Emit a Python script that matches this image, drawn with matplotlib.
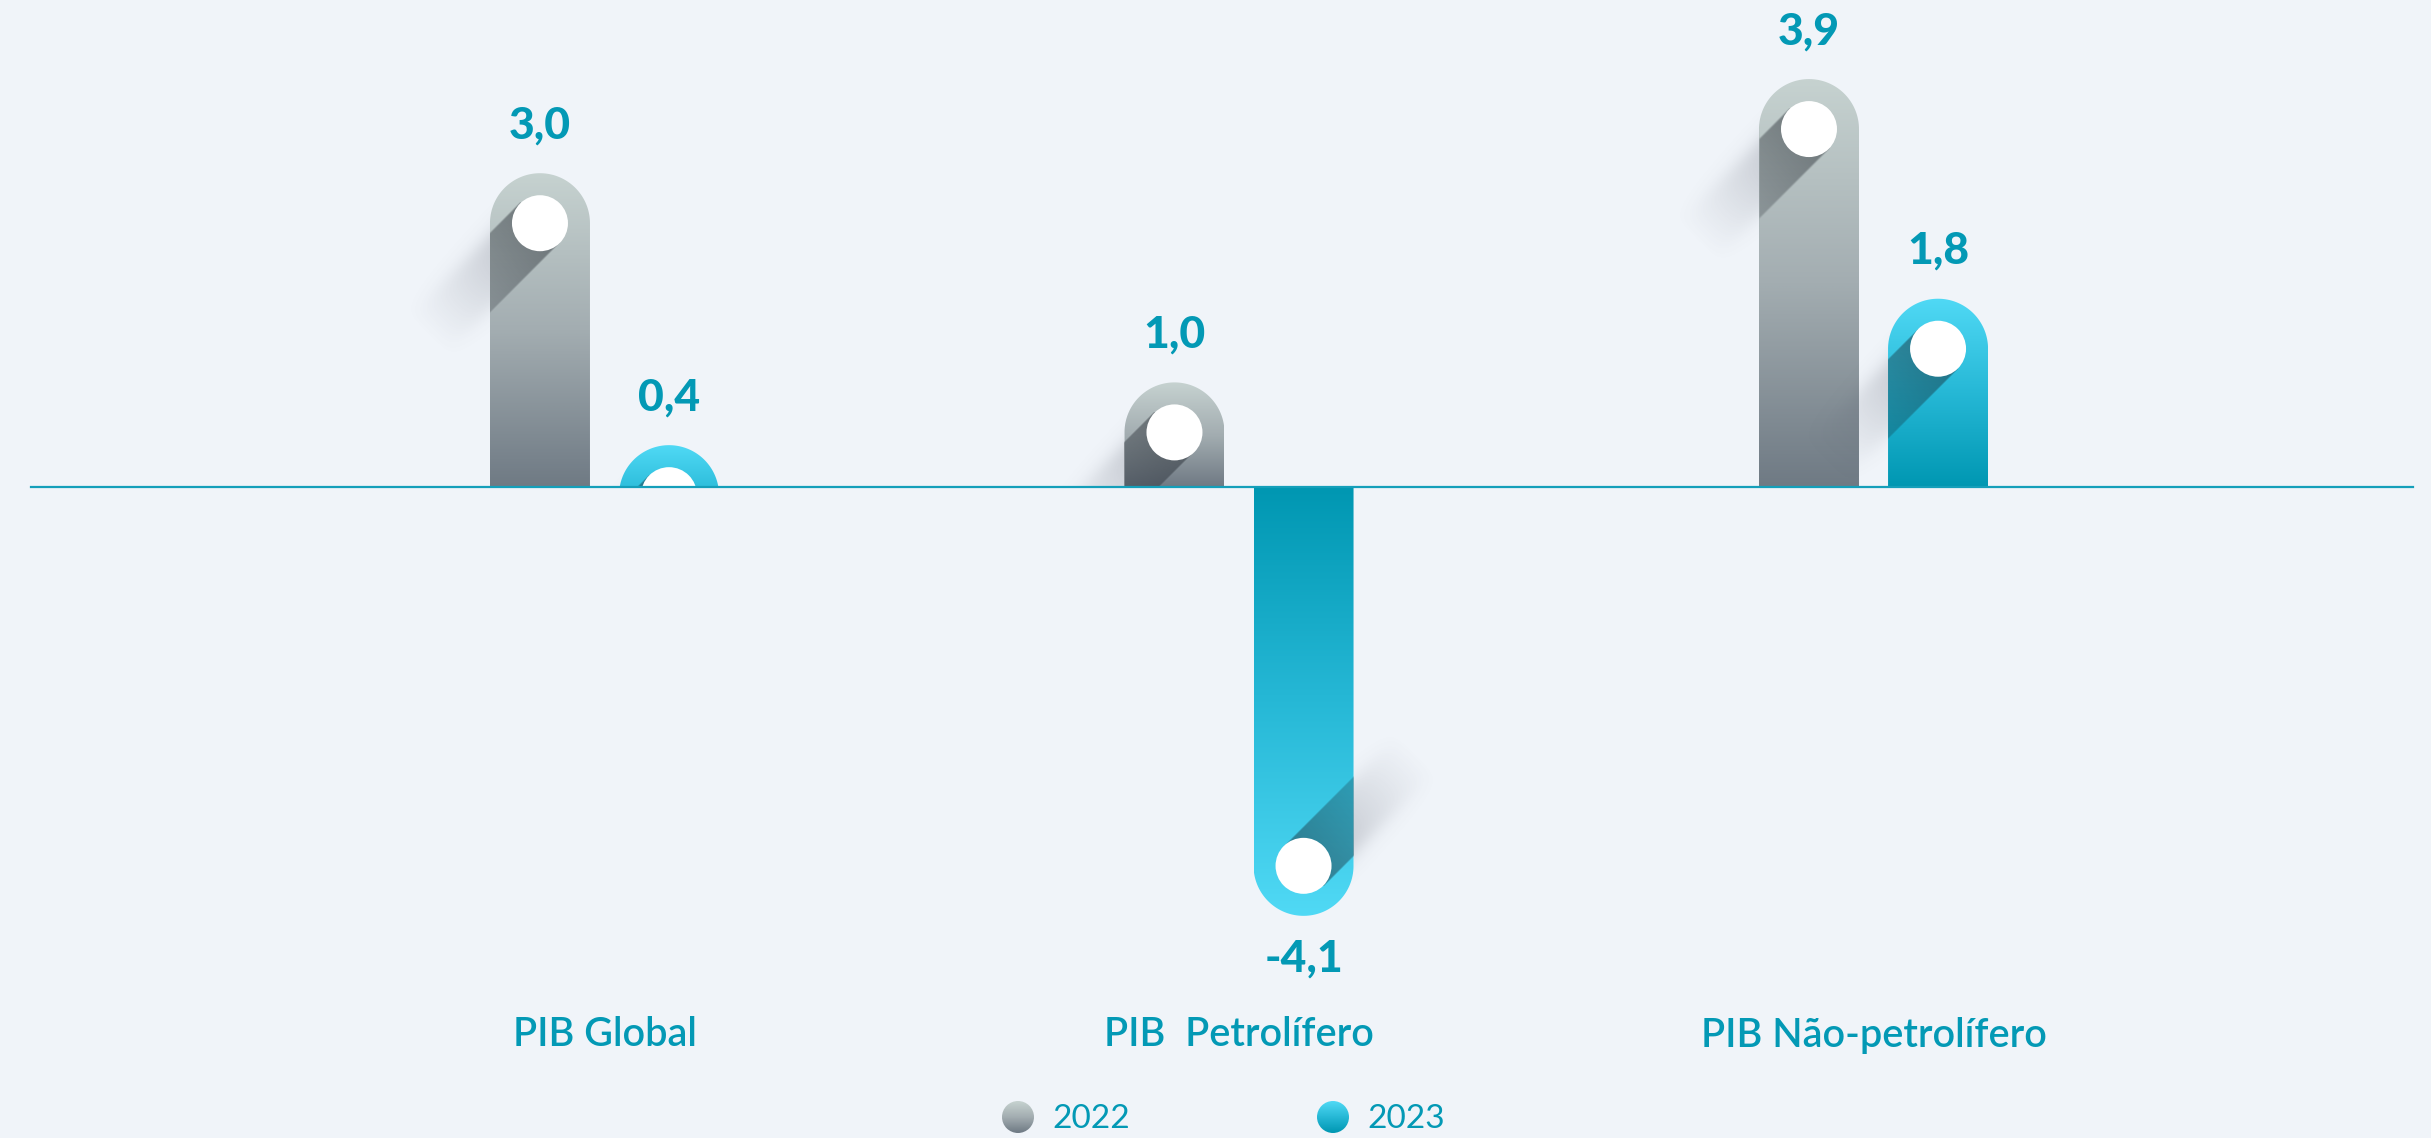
import numpy as np
import matplotlib
matplotlib.use('Agg')
import matplotlib.pyplot as plt
import matplotlib.transforms as mtransforms
from matplotlib.patches import Polygon, Ellipse, Circle
from matplotlib.colors import LinearSegmentedColormap

categories = ['PIB Global', 'PIB  Petrolífero', 'PIB Não-petrolífero']
years = ['2022', '2023']
v2022 = [3.0, 1.0, 3.9]
v2023 = [0.4, -4.1, 1.8]

W, H, DPI = 2431, 1138, 100
bg = '#f0f4f9'
teal = '#0399b5'
plt.rcParams['font.family'] = ['Lato', 'DejaVu Sans']

cmaps = {
    '2022': LinearSegmentedColormap.from_list('g22', ['#6f7a84', '#a3adb1', '#c6d2d0']),
    '2023': LinearSegmentedColormap.from_list('g23', ['#0097b2', '#26b8d6', '#50d9f5']),
}

fig = plt.figure(figsize=(W / DPI, H / DPI), dpi=DPI, facecolor=bg)
ax = fig.add_axes([0, 0, 1, 1])
ax.set_facecolor(bg)
ax.axis('off')
xlim = (-0.9527, 2.8786)
ylim = (-6.224, 4.656)
ax.set_xlim(xlim)
ax.set_ylim(ylim)
sx = W / (xlim[1] - xlim[0])   # px per x unit
sy = H / (ylim[1] - ylim[0])   # px per y unit

off = 0.1017
hw_px = 50.0     # half bar width in px
rc = 28.0        # white dot radius px
hw = hw_px / sx
ry = hw_px / sy


def bar_patch(xc, v):
    s = 1 if v >= 0 else -1
    yc = v - s * ry
    if s * yc >= 0:
        th0 = 0.0
    else:
        th0 = np.arcsin(min(1.0, -s * yc / ry))
    th = np.linspace(th0, np.pi - th0, 120)
    arc = np.column_stack([xc + hw * np.cos(th), yc + s * ry * np.sin(th)])
    if th0 == 0.0:
        pts = np.vstack([[xc + hw, 0], arc, [xc - hw, 0]])
    else:
        pts = arc
    return Polygon(pts, closed=True, fc='none', ec='none', transform=ax.transData), yc, s


def shadow(xc, yc, s, v):
    cxp = (xc - xlim[0]) * sx
    cyp = (yc - ylim[0]) * sy
    byp = (0 - ylim[0]) * sy
    R = 220
    X = cxp + np.arange(-R, R) + 0.5
    Y = cyp + np.arange(-R, R) + 0.5
    XX, YY = np.meshgrid(X, Y)
    dx = XX - cxp
    dy = YY - cyp
    d0 = d1 = (-1 if s > 0 else 1) / np.sqrt(2)
    t = dx * d0 + dy * d1
    perp = np.abs(dx * d1 - dy * d0)
    side = (s * (YY - byp)) >= 0
    if s > 0:
        rect = (np.abs(dx) <= hw_px) & (YY >= byp) & (YY <= cyp)
    else:
        rect = (np.abs(dx) <= hw_px) & (YY <= byp) & (YY >= cyp)
    cap = (dx ** 2 + dy ** 2 <= hw_px ** 2) & side
    inside = rect | cap

    band_in = np.clip((rc - perp) / 1.5 + 0.5, 0, 1) * (t >= 0)
    fade_in = np.clip(1 - t / 200.0, 0, 1)
    a_in = 0.45 * band_in * fade_in

    band_out = 0.5 * (1 - np.tanh((perp - rc + 2) / 10.0))
    fade_out = np.clip(1 - t / 160.0, 0, 1) ** 1.1 * 0.5 * (1 + np.tanh(t / 8.0))
    a_out = 0.36 * band_out * fade_out * side

    rgba = np.zeros(XX.shape + (4,))
    rgba[..., 0] = np.where(inside, 0.08, 0.30)
    rgba[..., 1] = np.where(inside, 0.10, 0.32)
    rgba[..., 2] = np.where(inside, 0.13, 0.38)
    rgba[..., 3] = np.where(inside, a_in, a_out)
    ext = [xlim[0] + (cxp - R) / sx, xlim[0] + (cxp + R) / sx,
           ylim[0] + (cyp - R) / sy, ylim[0] + (cyp + R) / sy]
    ax.imshow(rgba, extent=ext, origin='lower', aspect='auto',
              interpolation='bilinear', zorder=3)


def draw_bar(xc, v, year):
    patch, yc, s = bar_patch(xc, v)
    top, bot = max(0, v), min(0, v)
    ys = np.linspace(bot, top, 300)
    span = max(abs(v), 1.0)
    g = 1 - (abs(v) - np.abs(ys)) / span
    im = ax.imshow(g[:, None], cmap=cmaps[year], vmin=0, vmax=1,
                   extent=[xc - hw, xc + hw, bot, top], origin='lower',
                   aspect='auto', interpolation='bilinear', zorder=2)
    im.set_clip_path(patch)
    shadow(xc, yc, s, v)
    dot = Ellipse((xc, yc), 2 * rc / sx, 2 * rc / sy, fc='white', ec='none', zorder=4)
    ax.add_patch(dot)
    dot.set_clip_path(patch)
    lab = f'{v:.1f}'.replace('.', ',')
    ly = v + 48 / sy if s > 0 else v - 43 / sy
    ax.text(xc, ly, lab, ha='center', va='center', fontsize=32,
            fontweight='black', color=teal, zorder=6)


for i in range(len(categories)):
    draw_bar(i - off, v2022[i], '2022')
    draw_bar(i + off, v2023[i], '2023')

ax.axhline(0, xmin=31 / W, xmax=2413 / W, color='#149fba', lw=1.6, zorder=5)

trans = mtransforms.blended_transform_factory(ax.transData, ax.transAxes)
for i, name in enumerate(categories):
    ax.text(i, (H - 1035) / H, name, transform=trans, ha='center', va='center',
            fontsize=28.5, fontweight='semibold', color=teal)

# legend
lax = fig.add_axes([0, 0, 1, 1])
lax.set_xlim(0, W)
lax.set_ylim(0, H)
lax.axis('off')
lax.patch.set_alpha(0)
for yr, lx in zip(years, [1018, 1333]):
    ly = H - 1117
    c = Circle((lx, ly), 16, fc='none', ec='none', transform=lax.transData)
    im = lax.imshow(np.linspace(0, 1, 50)[:, None], cmap=cmaps[yr], vmin=0, vmax=1,
                    extent=[lx - 16, lx + 16, ly - 16, ly + 16], origin='lower',
                    aspect='auto', interpolation='bilinear')
    im.set_clip_path(c)
    lax.text(lx + 34, ly - 2, yr, ha='left', va='center', fontsize=24,
             fontweight='normal', color=teal)
lax.set_xlim(0, W)
lax.set_ylim(0, H)

fig.savefig('out.png', dpi=DPI, facecolor=bg)
